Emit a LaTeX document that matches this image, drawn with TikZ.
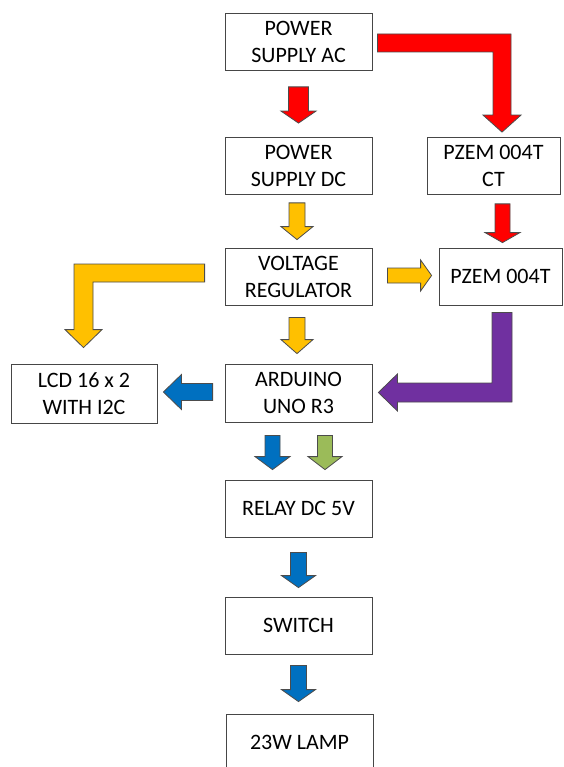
\documentclass[tikz,border=0pt]{standalone}
\usepackage{fontspec}
\setmainfont{Carlito}
\usetikzlibrary{calc}
\definecolor{arrred}{RGB}{255,0,0}
\definecolor{arryellow}{RGB}{255,192,0}
\definecolor{arrblue}{RGB}{0,112,192}
\definecolor{arrgreen}{RGB}{155,187,89}
\definecolor{arrpurple}{RGB}{112,48,160}
\definecolor{boxline}{RGB}{70,70,70}

%% block arrows: colour, from, tip, half shaft, half head, head length
\newcommand{\blkdown}[6]{%
  \draw[blk, fill=#1] let \p1=(#2), \p2=(#3) in
    (\x1-#4,\y1) -- (\x1+#4,\y1) -- (\x1+#4,\y2+#6) -- (\x1+#5,\y2+#6) -- (\x1,\y2)
    -- (\x1-#5,\y2+#6) -- (\x1-#4,\y2+#6) -- cycle;}
\newcommand{\blkleft}[6]{%
  \draw[blk, fill=#1] let \p1=(#2), \p2=(#3) in
    (\x1,\y1+#4) -- (\x1,\y1-#4) -- (\x2+#6,\y1-#4) -- (\x2+#6,\y1-#5) -- (\x2,\y1)
    -- (\x2+#6,\y1+#5) -- (\x2+#6,\y1+#4) -- cycle;}
\newcommand{\blkright}[6]{%
  \draw[blk, fill=#1] let \p1=(#2), \p2=(#3) in
    (\x1,\y1+#4) -- (\x1,\y1-#4) -- (\x2-#6,\y1-#4) -- (\x2-#6,\y1-#5) -- (\x2,\y1)
    -- (\x2-#6,\y1+#5) -- (\x2-#6,\y1+#4) -- cycle;}

\begin{document}
\begin{tikzpicture}[x=1pt, y=-1pt,
    box/.style={draw=boxline, line width=0.8pt, fill=white, minimum width=147pt,
                minimum height=57pt, inner sep=0pt, align=center,
                font=\fontsize{22}{27}\selectfont},
    blk/.style={draw=black!70, line width=0.8pt, line join=miter}
  ]
    \clip (0,0) rectangle (563,767);

    %% Boxes
    \node[box] (psac) at (298.5,42) {POWER\\SUPPLY AC};
    \node[box] (psdc) at (298.5,166) {POWER\\SUPPLY DC};
    \node[box, minimum width=133pt] (ct) at (493.5,166) {PZEM 004T\\CT};
    \node[box] (vreg) at (298.5,276.5) {VOLTAGE\\REGULATOR};
    \node[box, minimum width=123pt] (pzem) at (500.5,276.5) {PZEM 004T};
    \node[box, minimum width=146pt, minimum height=59pt] (lcd) at (84,393.5) {LCD 16 x 2\\WITH I2C};
    \node[box, minimum height=58pt] (uno) at (298.5,393) {ARDUINO\\UNO R3};
    \node[box] (relay) at (298.5,508.5) {RELAY DC 5V};
    \node[box] (switch) at (298.5,625.5) {SWITCH};
    \node[box] (lamp) at (299.5,742.5) {23W LAMP};

    %% Red arrows
    \blkdown{arrred}{$(psac.south)+(0,16)$}{$(psdc.north)+(0,-14)$}{10pt}{17.5pt}{12pt}
    \draw[blk, fill=arrred] let \p1=($(psac.east)+(5,1)$), \p2=($(ct.north)+(8.5,-5)$) in
      (\x1,\y1+9pt) -- (\x2+9pt,\y1+9pt) -- (\x2+9pt,\y2+17pt) -- (\x2+19pt,\y2+17pt)
      -- (\x2,\y2) -- (\x2-19pt,\y2+17pt) -- (\x2-9pt,\y2+17pt) -- (\x2-9pt,\y1-9pt)
      -- (\x1,\y1-9pt) -- cycle;
    \blkdown{arrred}{$(ct.south)+(9,9)$}{$(pzem.north)+(2,-5)$}{7.5pt}{17.5pt}{10pt}

    %% Yellow arrows
    \blkdown{arryellow}{$(psdc.south)+(-1.5,8)$}{$(vreg.north)+(-1.5,-8)$}{8pt}{16pt}{13pt}
    \blkdown{arryellow}{$(vreg.south)+(-1.5,12)$}{$(uno.north)+(-1.5,-10)$}{8pt}{16pt}{14pt}
    \blkright{arryellow}{$(vreg.east)+(15,-1)$}{$(pzem.west)+(-7,0)$}{7.5pt}{15.5pt}{11pt}
    \draw[blk, fill=arryellow] let \p1=($(vreg.west)+(-20,-3.5)$), \p2=($(lcd.north)+(-0.5,-16)$) in
      (\x1,\y1+9pt) -- (\x2-9.5pt,\y1+9pt) -- (\x2-9.5pt,\y2+18pt) -- (\x2-18.5pt,\y2+18pt)
      -- (\x2,\y2) -- (\x2+18.5pt,\y2+18pt) -- (\x2+9.5pt,\y2+18pt) -- (\x2+9.5pt,\y1-9pt)
      -- (\x1,\y1-9pt) -- cycle;

    %% Purple arrow
    \draw[blk, fill=arrpurple] let \p1=($(pzem.south)+(1.5,7)$), \p2=($(uno.east)+(6,-0.5)$) in
      (\x1-10pt,\y1) -- (\x1+10pt,\y1) -- (\x1+10pt,\y2-9.5pt) -- (\x2+19pt,\y2-9.5pt)
      -- (\x2+19pt,\y2-18.5pt) -- (\x2,\y2) -- (\x2+19pt,\y2+18.5pt) -- (\x2+19pt,\y2+9.5pt)
      -- (\x1-10pt,\y2+9.5pt) -- cycle;

    %% Blue and green arrows
    \blkleft{arrblue}{$(uno.west)+(-12,-1)$}{$(lcd.east)+(6,0)$}{8.5pt}{17.5pt}{18pt}
    \blkdown{arrblue}{$(uno.south)+(-26,13)$}{$(relay.north)+(-26,-10)$}{7.5pt}{17.5pt}{13pt}
    \blkdown{arrgreen}{$(uno.south)+(26.5,13)$}{$(relay.north)+(26.5,-10)$}{7.5pt}{17pt}{13pt}
    \blkdown{arrblue}{$(relay.south)+(0,15)$}{$(switch.north)+(0,-9)$}{8pt}{17pt}{12pt}
    \blkdown{arrblue}{$(switch.south)+(0,11)$}{$(lamp.north)+(-1,-12)$}{8pt}{17pt}{12pt}
\end{tikzpicture}
\end{document}
